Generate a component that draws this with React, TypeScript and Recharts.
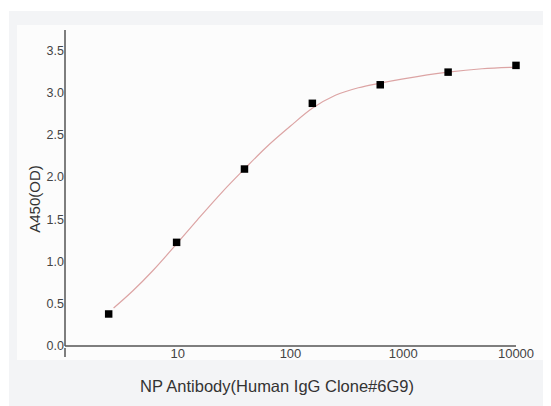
import React from "react";
import { ComposedChart, Line, Scatter, XAxis, YAxis, ZAxis } from "recharts";

const concentrations = [2.44, 9.77, 39.06, 156.25, 625, 2500, 10000];
const odValues = [0.38, 1.23, 2.1, 2.88, 3.1, 3.25, 3.33];

const fitX = [2.7, 4, 6, 9.8, 15, 25, 39, 60, 100, 156, 250, 400, 625, 1000, 2500, 5000, 10000];
const fitY = [0.45, 0.655, 0.893, 1.213, 1.5, 1.833, 2.1, 2.35, 2.61, 2.82, 2.975, 3.065, 3.12, 3.17, 3.25, 3.29, 3.31];

const xTicks = [1, 10, 100, 1000, 10000];
const yTicks = [0, 0.5, 1, 1.5, 2, 2.5, 3, 3.5];

const xTitle = "NP Antibody(Human IgG Clone#6G9)";
const yTitle = "A450(OD)";

const points = concentrations.map((c, i) => ({ x: c, y: odValues[i] }));
const fit = fitX.map((c, i) => ({ x: c, y: fitY[i] }));

const FONT = "'Liberation Sans', Arial, sans-serif";

const XTick = (props: any) => {
  const { x, y, payload } = props;
  if (payload.value === 1) {
    return <line x1={x} x2={x} y1={y} y2={y + 9} stroke="#555" strokeWidth={1.5} />;
  }
  return (
    <text x={x} y={y + 10} textAnchor="middle" fontSize={13} fill="#444" fontFamily={FONT}>
      {payload.value}
    </text>
  );
};

const YTick = (props: any) => {
  const { x, y, payload } = props;
  return (
    <text x={x + 1} y={y + 4} textAnchor="end" fontSize={12.5} fill="#444" fontFamily={FONT}>
      {Number(payload.value).toFixed(1)}
    </text>
  );
};

export default function App() {
  return (
    <div style={{ position: "fixed", left: 0, top: 0, width: 551, height: 406, background: "#ffffff", overflow: "hidden" }}>
      <div style={{ position: "absolute", left: 9, top: 11, width: 534, height: 395, background: "#f3f4f6" }} />
      <div style={{ position: "absolute", left: 17, top: 25, width: 526, height: 335, background: "#fcfcfc" }} />
      <div style={{ position: "absolute", left: 0, top: 0 }}>
        <ComposedChart width={551} height={406} margin={{ top: 30, right: 35, bottom: 30, left: 5 }}>
          <XAxis
            dataKey="x"
            type="number"
            scale="log"
            domain={[1, 10000]}
            ticks={xTicks}
            height={30}
            tickLine={false}
            tickSize={0}
            tick={<XTick />}
            axisLine={{ stroke: "#555", strokeWidth: 1.5 }}
          />
          <YAxis
            dataKey="y"
            type="number"
            domain={[0, 3.75]}
            ticks={yTicks}
            width={60}
            tickLine={false}
            tickSize={0}
            tick={<YTick />}
            axisLine={{ stroke: "#555", strokeWidth: 1.5 }}
          />
          <ZAxis range={[56, 56]} />
          <Line
            data={fit}
            dataKey="y"
            type="monotone"
            stroke="#dca4a4"
            strokeWidth={1.2}
            dot={false}
            activeDot={false}
            isAnimationActive={false}
          />
          <Scatter data={points} dataKey="y" shape="square" fill="#000" isAnimationActive={false} />
        </ComposedChart>
      </div>
      <div
        style={{
          position: "absolute",
          left: 0,
          width: 554,
          top: 377,
          textAlign: "center",
          fontFamily: FONT,
          fontSize: 16.5,
          color: "#333",
          whiteSpace: "nowrap",
        }}
      >
        {xTitle}
      </div>
      <div
        style={{
          position: "absolute",
          left: 34,
          top: 199,
          transform: "translate(-50%, -50%) rotate(-90deg)",
          fontFamily: FONT,
          fontSize: 15,
          color: "#333",
          whiteSpace: "nowrap",
        }}
      >
        {yTitle}
      </div>
    </div>
  );
}
